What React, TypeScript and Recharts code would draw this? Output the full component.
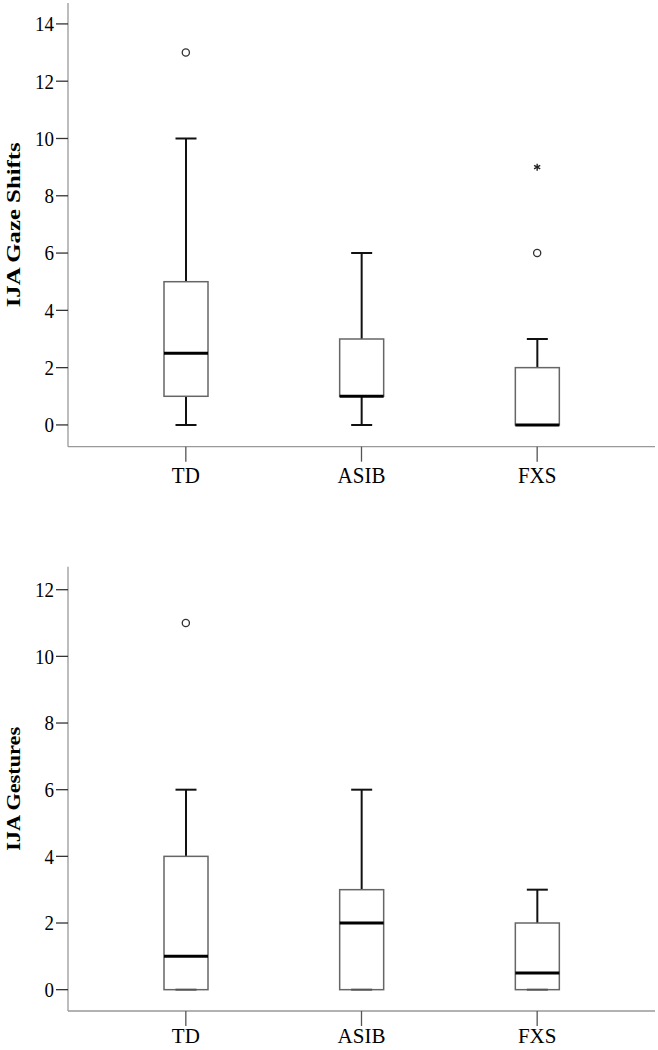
import React from "react";
import { ComposedChart, Bar, Scatter, XAxis, YAxis } from "recharts";

const groups = ["TD", "ASIB", "FXS"];

// IJA Gaze Shifts
const gazeMin = [0, 0, 0];
const gazeQ1 = [1, 1, 0];
const gazeMedian = [2.5, 1, 0];
const gazeQ3 = [5, 3, 2];
const gazeMax = [10, 6, 3];
const gazeCircles = [13, null, 6];
const gazeStars = [null, null, 9];
const gazeTicks = [0, 2, 4, 6, 8, 10, 12, 14];

// IJA Gestures
const gestMin = [0, 0, 0];
const gestQ1 = [0, 0, 0];
const gestMedian = [1, 2, 0.5];
const gestQ3 = [4, 3, 2];
const gestMax = [6, 6, 3];
const gestCircles = [11, null, null];
const gestStars = [null, null, null];
const gestTicks = [0, 2, 4, 6, 8, 10, 12];

const FONT = "Liberation Serif";

function buildRows(min, q1, med, q3, max, circles, stars) {
  return groups.map((g, i) => ({
    group: g,
    range: [min[i], max[i]],
    min: min[i],
    q1: q1[i],
    median: med[i],
    q3: q3[i],
    max: max[i],
    circle: circles[i],
    star: stars[i],
  }));
}

// box + whiskers drawn from the range bar's own geometry
function BoxShape(props: any) {
  const { x, y, width, height, payload } = props;
  if (payload == null || height == null) return null;
  const lo = payload.min;
  const hi = payload.max;
  const top = Math.min(y, y + height);
  const k = Math.abs(height) / (hi - lo);
  const py = (v: number) => top + (hi - v) * k;
  const cx = x + width / 2;
  const cap = 10.5;
  return (
    <g>
      <line x1={cx} x2={cx} y1={py(hi)} y2={py(payload.q3)} stroke="#111" strokeWidth={2} />
      <line x1={cx - cap} x2={cx + cap} y1={py(hi)} y2={py(hi)} stroke="#111" strokeWidth={2} />
      <line x1={cx} x2={cx} y1={py(payload.q1)} y2={py(lo)} stroke="#111" strokeWidth={2} />
      <rect
        x={x}
        y={py(payload.q3)}
        width={width}
        height={py(payload.q1) - py(payload.q3)}
        fill="#fff"
        stroke="#666"
        strokeWidth={1.5}
      />
      <line
        x1={cx - cap}
        x2={cx + cap}
        y1={py(lo)}
        y2={py(lo)}
        stroke={payload.q1 === lo ? "#555" : "#111"}
        strokeWidth={2}
      />
      <line x1={x} x2={x + width} y1={py(payload.median)} y2={py(payload.median)} stroke="#000" strokeWidth={3} />
    </g>
  );
}

function CircleShape(props: any) {
  const { cx, cy, payload } = props;
  if (payload == null || payload.circle == null || !isFinite(cy)) return null;
  return <circle cx={cx} cy={cy} r={3.6} fill="#fff" stroke="#333" strokeWidth={1.3} />;
}

function StarShape(props: any) {
  const { cx, cy, payload } = props;
  if (payload == null || payload.star == null || !isFinite(cy)) return null;
  const r = 3.5;
  return (
    <g stroke="#222" strokeWidth={1.4}>
      <line x1={cx} x2={cx} y1={cy - r} y2={cy + r} />
      <line x1={cx - r * 0.87} x2={cx + r * 0.87} y1={cy - r * 0.5} y2={cy + r * 0.5} />
      <line x1={cx - r * 0.87} x2={cx + r * 0.87} y1={cy + r * 0.5} y2={cy - r * 0.5} />
    </g>
  );
}

// the source figure was stretched a little vertically
function YTick(props: any) {
  const { x, y, payload } = props;
  return (
    <text
      transform={`translate(${x}, ${y}) scale(1, 1.08)`}
      dy="0.36em"
      textAnchor="end"
      fill="#000"
      style={{ fontFamily: FONT, fontSize: "19px" }}
    >
      {String(payload.value)}
    </text>
  );
}

function XTick(props: any) {
  const { x, y, payload, stretch } = props;
  return (
    <text
      transform={`translate(${x}, ${y}) scale(1, ${stretch})`}
      dy="0.72em"
      textAnchor="middle"
      fill="#000"
      style={{ fontFamily: FONT, fontSize: "21px" }}
    >
      {String(payload.value)}
    </text>
  );
}

function AxisTitle({ viewBox, text, length }: any) {
  const cy = viewBox.y + viewBox.height / 2;
  return (
    <text
      transform={`translate(13, ${cy}) rotate(-90)`}
      textAnchor="middle"
      dominantBaseline="central"
      fill="#000"
      textLength={length}
      lengthAdjust="spacingAndGlyphs"
      style={{ fontFamily: FONT, fontSize: "19px", fontWeight: "bold" }}
    >
      {text}
    </text>
  );
}

function BoxPlot({ rows, domain, ticks, title, titleLength, height, marginTop, marginBottom, xStretch, xMargin }: any) {
  return (
    <ComposedChart
      width={658}
      height={height}
      data={rows}
      margin={{ top: marginTop, right: 3, bottom: marginBottom, left: 8 }}
      style={{ fontFamily: FONT }}
    >
      <XAxis
        dataKey="group"
        type="category"
        allowDuplicatedCategory={false}
        padding={{ left: 30, right: 30 }}
        height={33.3}
        tickSize={15}
        tickMargin={xMargin}
        axisLine={{ stroke: "#999", strokeWidth: 1.3 }}
        tickLine={{ stroke: "#555", strokeWidth: 1.3 }}
        tick={(p: any) => <XTick {...p} stretch={xStretch} />}
      />
      <YAxis
        type="number"
        domain={domain}
        ticks={ticks}
        interval={0}
        allowDataOverflow
        width={60}
        tickSize={12}
        tickMargin={2}
        axisLine={{ stroke: "#999", strokeWidth: 1.3 }}
        tickLine={{ stroke: "#333", strokeWidth: 1.3 }}
        tick={(p: any) => <YTick {...p} />}
        label={(p: any) => <AxisTitle viewBox={p.viewBox} text={title} length={titleLength} />}
      />
      <Bar dataKey="range" barSize={44} shape={<BoxShape />} isAnimationActive={false} />
      <Scatter dataKey="circle" shape={<CircleShape />} isAnimationActive={false} />
      <Scatter dataKey="star" shape={<StarShape />} isAnimationActive={false} />
    </ComposedChart>
  );
}

export default function App() {
  const gazeRows = buildRows(gazeMin, gazeQ1, gazeMedian, gazeQ3, gazeMax, gazeCircles, gazeStars);
  const gestRows = buildRows(gestMin, gestQ1, gestMedian, gestQ3, gestMax, gestCircles, gestStars);
  return (
    <div style={{ position: "absolute", left: 0, top: 0, width: 658, height: 1050, background: "#fff" }}>
      <BoxPlot
        rows={gazeRows}
        domain={[-0.76, 14.73]}
        ticks={gazeTicks}
        title="IJA Gaze Shifts"
        titleLength={165}
        height={490}
        marginTop={3}
        marginBottom={10}
        xStretch={1.12}
        xMargin={4}
      />
      <div style={{ height: 20 }} />
      <BoxPlot
        rows={gestRows}
        domain={[-0.64, 12.69]}
        ticks={gestTicks}
        title="IJA Gestures"
        titleLength={124}
        height={540}
        marginTop={56.7}
        marginBottom={5.7}
        xStretch={1}
        xMargin={2}
      />
    </div>
  );
}
